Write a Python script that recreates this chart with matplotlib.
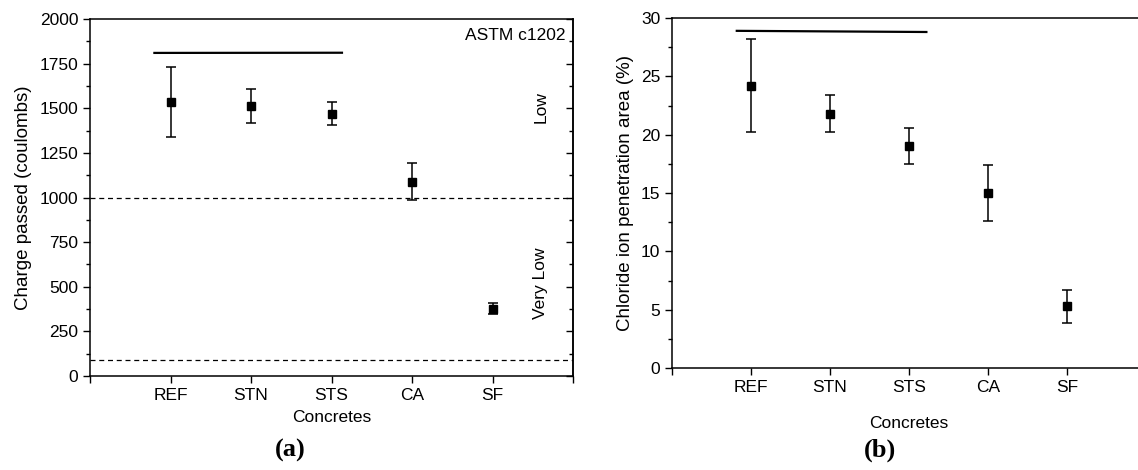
import matplotlib.pyplot as plt
from matplotlib.ticker import MultipleLocator

plt.rcParams['font.family'] = ['Liberation Sans', 'DejaVu Sans']

# concretes on the x axis
concretes = ["REF", "STN", "STS", "CA", "SF"]

# (a) charge passed, ASTM c1202
charge_mean = [1535, 1515, 1470, 1085, 378]
charge_low = [1340, 1420, 1405, 985, 345]
charge_high = [1730, 1610, 1535, 1195, 410]
charge_bar_y = [1810, 1811]          # horizontal bar over REF..STS
charge_bar_x = [0.80, 3.13]
limits_charge = [1000, 90]           # dashed class limits

# (b) chloride ion penetration area
chloride_mean = [24.2, 21.8, 19.0, 15.0, 5.3]
chloride_low = [20.2, 20.2, 17.5, 12.6, 3.9]
chloride_high = [28.2, 23.4, 20.6, 17.4, 6.7]
chloride_bar_y = [28.9, 28.8]
chloride_bar_x = [0.82, 3.22]


def style_axis(ax, ymax, ymajor, yminor, right_minor=True):
    ax.set_xlim(0, 6)
    ax.set_ylim(0, ymax)
    ax.set_xticks(range(0, 7))
    ax.set_xticklabels([""] + concretes + [""], fontsize=12.5)
    ax.yaxis.set_major_locator(MultipleLocator(ymajor))
    ax.yaxis.set_minor_locator(MultipleLocator(yminor))
    ax.tick_params(axis='y', which='both', direction='out', labelsize=12.5, width=1)
    ax.tick_params(axis='y', which='major', length=5)
    ax.tick_params(axis='y', which='minor', length=3)
    ax.tick_params(axis='x', direction='out', length=5, width=1, pad=4)
    for side in ax.spines.values():
        side.set_linewidth(1.1)

    # right side ticks point inward, no labels
    sec = ax.secondary_yaxis('right')
    sec.yaxis.set_major_locator(MultipleLocator(ymajor))
    if right_minor:
        sec.yaxis.set_minor_locator(MultipleLocator(yminor))
    sec.tick_params(which='both', direction='in', labelright=False, width=1)
    sec.tick_params(which='major', length=5)
    sec.tick_params(which='minor', length=3)
    sec.spines['right'].set_linewidth(1.1)
    return list(range(1, len(concretes) + 1))


fig = plt.figure(figsize=(11.38, 4.70), dpi=100)

# ---------------- panel (a) ----------------
ax1 = fig.add_axes([90 / 1138, 1 - 376 / 470, 483 / 1138, 357 / 470])
xs = style_axis(ax1, 2000, 250, 125)
yerr = [[m - l for m, l in zip(charge_mean, charge_low)],
        [h - m for m, h in zip(charge_mean, charge_high)]]
ax1.errorbar(xs, charge_mean, yerr=yerr, fmt='s', color='black', ms=5.5,
             capsize=3.5, elinewidth=1.1, capthick=1.1)
ax1.plot(charge_bar_x, charge_bar_y, color='black', lw=1.6)
for lim in limits_charge:
    ax1.axhline(lim, color='black', lw=0.9, ls=(0, (4, 3)))
ax1.text(0.985, 0.975, "ASTM c1202", transform=ax1.transAxes,
         ha='right', va='top', fontsize=12.5)
ax1.text(5.6, 1507, "Low", rotation=90, ha='center', va='center', fontsize=12.5)
ax1.text(5.6, 520, "Very Low", rotation=90, ha='center', va='center', fontsize=12.5)
ax1.set_xlabel("Concretes", fontsize=12.5, labelpad=5)
ax1.set_ylabel("Charge passed (coulombs)", fontsize=13.5, labelpad=5)

# ---------------- panel (b) ----------------
ax2 = fig.add_axes([672 / 1138, 1 - 368 / 470, 474 / 1138, 350 / 470])
xs = style_axis(ax2, 30, 5, 2.5, right_minor=False)
yerr = [[m - l for m, l in zip(chloride_mean, chloride_low)],
        [h - m for m, h in zip(chloride_mean, chloride_high)]]
ax2.errorbar(xs, chloride_mean, yerr=yerr, fmt='s', color='black', ms=5.5,
             capsize=3.5, elinewidth=1.1, capthick=1.1)
ax2.plot(chloride_bar_x, chloride_bar_y, color='black', lw=1.6)
ax2.set_xlabel("Concretes", fontsize=12.5, labelpad=15)
ax2.set_ylabel("Chloride ion penetration area (%)", fontsize=13.5, labelpad=5)

fig.text(290 / 1138, 1 - 450 / 470, "(a)", family='Liberation Serif',
         fontweight='bold', fontsize=19, ha='center', va='center')
fig.text(880 / 1138, 1 - 450 / 470, "(b)", family='Liberation Serif',
         fontweight='bold', fontsize=19, ha='center', va='center')

fig.savefig("out.png", dpi=100)
